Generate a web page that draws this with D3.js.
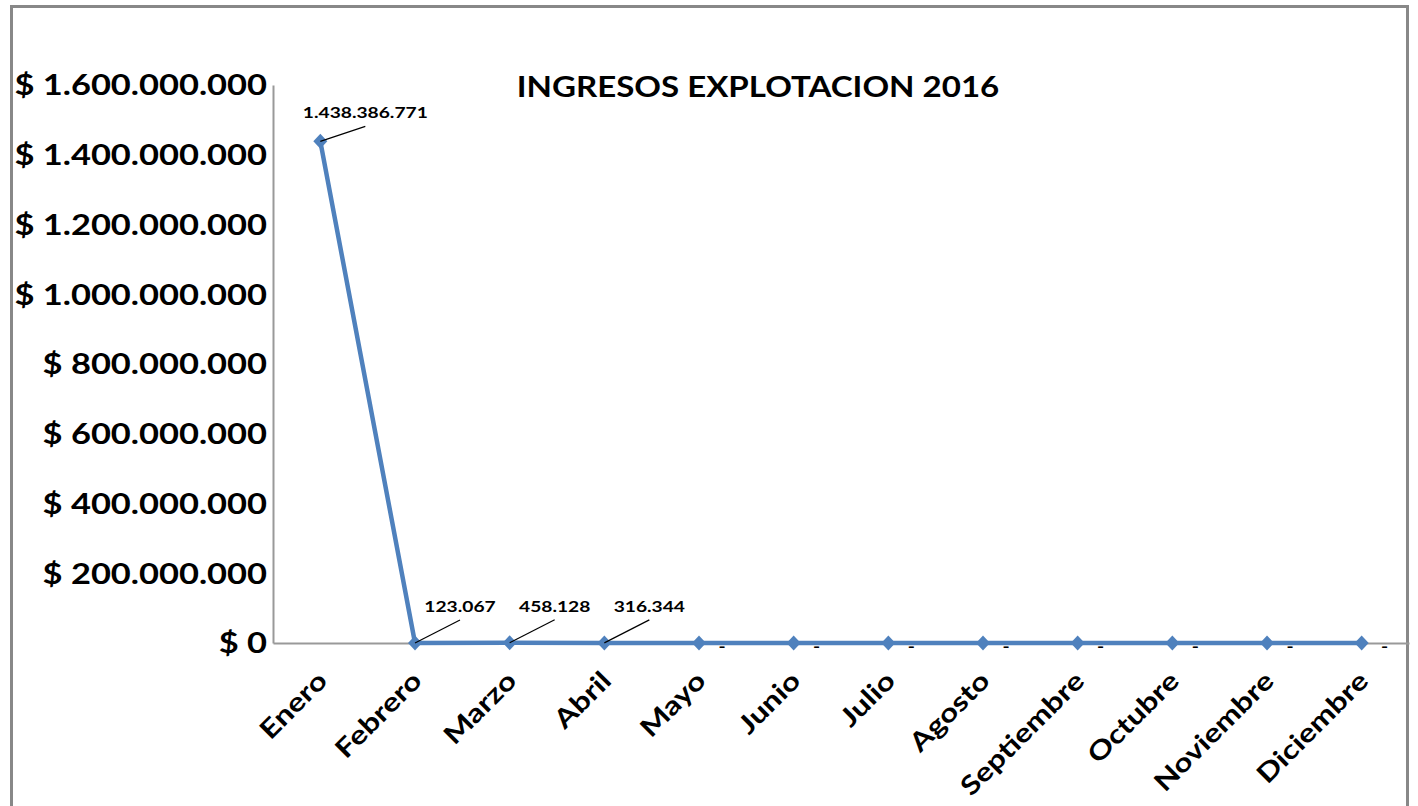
<!DOCTYPE html>
<html>
<head>
<meta charset="utf-8">
<script src="https://cdn.jsdelivr.net/npm/d3@7"></script>
<style>
  body { margin: 0; background: #fff; }
  text { font-family: Lato, "Open Sans", sans-serif; font-weight: bold; fill: #000; }
</style>
</head>
<body>
<svg id="chart" width="1418" height="806"></svg>
<script>
var months = ["Enero", "Febrero", "Marzo", "Abril", "Mayo", "Junio", "Julio",
              "Agosto", "Septiembre", "Octubre", "Noviembre", "Diciembre"];
var ingresos = [1438386771, 123067, 458128, 316344, 0, 0, 0, 0, 0, 0, 0, 0];
var labels = ["1.438.386.771", "123.067", "458.128", "316.344", "-", "-", "-", "-", "-", "-", "-", "-"];
var yTicks = [0, 200000000, 400000000, 600000000, 800000000, 1000000000,
              1200000000, 1400000000, 1600000000];

var svg = d3.select("#chart");
var margin = {top: 85, left: 273, right: 9, bottom: 163},
    width = 1418 - margin.left - margin.right,
    height = 806 - margin.top - margin.bottom;

// outer frame
svg.append("rect")
  .attr("x", 11.5).attr("y", 6.5)
  .attr("width", 1396).attr("height", 820)
  .attr("fill", "none")
  .attr("stroke", "#888")
  .attr("stroke-width", 3);

var x = d3.scaleBand().domain(months).range([0, width]);
var y = d3.scaleLinear().domain([0, 1600000000]).range([height, 0]);

var g = svg.append("g")
  .attr("transform", "translate(" + margin.left + "," + margin.top + ")");

var fmt = function(d) { return "$ " + d3.format(",")(d).replace(/,/g, "."); };

var yAxis = d3.axisLeft(y).tickValues(yTicks).tickSize(0).tickFormat(fmt);
var ya = g.append("g").call(yAxis);
ya.select(".domain").attr("stroke", "#999").attr("stroke-width", 2);
ya.selectAll("text")
  .style("font-size", "28px")
  .style("font-family", "Lato, sans-serif")
  .style("font-weight", "bold")
  .attr("x", 0)
  .attr("dy", "0.35em")
  .attr("transform", "translate(-6,0) scale(1.23,1)");

var xAxis = d3.axisBottom(x).tickSize(0).tickPadding(0);
var xa = g.append("g")
  .attr("transform", "translate(0," + height + ")")
  .call(xAxis);
xa.select(".domain").attr("stroke", "#999").attr("stroke-width", 2);
xa.selectAll("text")
  .style("font-size", "26px")
  .style("font-family", "Lato, sans-serif")
  .style("font-weight", "bold")
  .attr("text-anchor", "end")
  .attr("transform", "translate(2,33) rotate(-45) scale(1.22,1)")
  .attr("dy", "0.35em")
  .attr("y", 0);

var cx = function(i) { return x(months[i]) + x.bandwidth() / 2; };

var line = d3.line()
  .x(function(d, i) { return cx(i); })
  .y(function(d) { return y(d); });

g.append("path")
  .datum(ingresos)
  .attr("d", line)
  .attr("fill", "none")
  .attr("stroke", "#4F81BD")
  .attr("stroke-width", 4.5);

g.selectAll("path.marker")
  .data(ingresos)
  .enter().append("path")
    .attr("class", "marker")
    .attr("d", "M0,-7.5L7,0L0,7.5L-7,0Z")
    .attr("fill", "#4F81BD")
    .attr("transform", function(d, i) { return "translate(" + cx(i) + "," + y(d) + ")"; });

// data labels with leader lines
ingresos.forEach(function(d, i) {
  var px = cx(i), py = y(d);
  if (d > 0) {
    var lx = px + 45, ly = i === 0 ? py - 15 : py - 23;
    g.append("line")
      .attr("x1", px).attr("y1", py)
      .attr("x2", lx).attr("y2", ly)
      .attr("stroke", "#000").attr("stroke-width", 1.2);
    g.append("text")
      .attr("text-anchor", "middle")
      .attr("transform", "translate(" + lx + "," + (ly - 8) + ") scale(1.2,1)")
      .style("font-size", "16px")
      .text(labels[i]);
  } else {
    g.append("text")
      .attr("text-anchor", "middle")
      .attr("transform", "translate(" + (px + 23) + "," + (py + 9) + ") scale(1.2,1)")
      .style("font-size", "16px")
      .text(labels[i]);
  }
});

svg.append("text")
  .attr("text-anchor", "middle")
  .attr("transform", "translate(758,97) scale(1.14,1)")
  .style("font-size", "29px")
  .text("INGRESOS EXPLOTACION 2016");
</script>
</body>
</html>
